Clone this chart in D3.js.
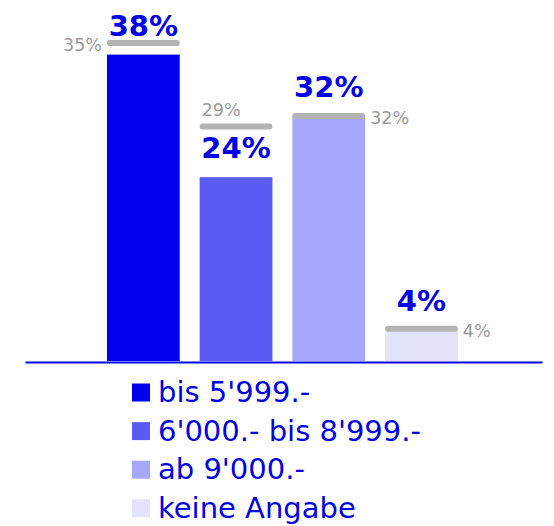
<!DOCTYPE html>
<html>
<head>
<meta charset="utf-8">
<script src="https://cdn.jsdelivr.net/npm/d3@7"></script>
<style>
  html, body { margin: 0; padding: 0; background: #fff; }
  svg { display: block; }
</style>
</head>
<body>
<div id="chart"></div>
<script>
// ---- data ----
const categories = ["bis 5'999.-", "6'000.- bis 8'999.-", "ab 9'000.-", "keine Angabe"];
// bar heights as drawn in the reference (percent scale)
const shares = [40, 24, 32, 4];
const shareLabels = ["38%", "24%", "32%", "4%"];
// grey comparison markers as drawn in the reference
const prevShares = [41.5, 30.6, 32, 4.2];
const prevLabels = ["35%", "29%", "32%", "4%"];
const yTicks = [0, 40];

// ---- styles ----
const W = 554, H = 526;
const colors = ["#0000ee", "#5a5af5", "#a6a6fb", "#e3e3fc"];
const blue = "#0000e6";
const grey = "#b3b3b3";
const greyText = "#9a9a9a";
const baseY = 361;

const svg = d3.select("#chart").append("svg")
  .attr("width", W).attr("height", H);

const x = d3.scaleBand()
  .domain(categories)
  .range([97, 467.8])
  .paddingInner(0.215)
  .paddingOuter(0.1075);

const y = d3.scaleLinear()
  .domain(d3.extent(yTicks))
  .range([baseY, baseY - 306.4]);

const data = categories.map((c, i) => ({
  c, i, v: shares[i], lab: shareLabels[i], p: prevShares[i], plab: prevLabels[i]
}));

// bars
svg.append("g").selectAll("rect").data(data).join("rect")
  .attr("x", d => x(d.c))
  .attr("y", d => y(d.v))
  .attr("width", x.bandwidth())
  .attr("height", d => y(0) - y(d.v))
  .attr("fill", (d, i) => colors[i]);

// baseline (axis line)
const axis = d3.axisBottom(d3.scaleLinear().range([25, 542])).ticks(0).tickSize(0).tickFormat("");
const ag = svg.append("g").attr("transform", `translate(0,${baseY + 1})`).call(axis);
ag.select(".domain").attr("stroke", blue).attr("stroke-width", 2);

// grey markers
svg.append("g").selectAll("rect").data(data).join("rect")
  .attr("x", d => x(d.c))
  .attr("y", d => y(d.p) - 3)
  .attr("width", x.bandwidth())
  .attr("height", 6)
  .attr("rx", 3)
  .attr("fill", grey);

// grey marker labels (placement chosen to avoid overlap)
const side = ["left", "top", "right", "right"];
svg.append("g").selectAll("text").data(data).join("text")
  .attr("font-family", "DejaVu Sans, sans-serif")
  .attr("font-size", 17.5)
  .attr("fill", greyText)
  .attr("text-anchor", d => side[d.i] === "left" ? "end" : "start")
  .attr("x", d => side[d.i] === "left" ? x(d.c) - 5
                : side[d.i] === "top" ? x(d.c) + 2
                : x(d.c) + x.bandwidth() + 5)
  .attr("y", d => side[d.i] === "top" ? y(d.p) - 11 : y(d.p) + 8)
  .text(d => d.plab);

// value labels
svg.append("g").selectAll("text").data(data).join("text")
  .attr("font-family", "DejaVu Sans, sans-serif")
  .attr("font-weight", "bold")
  .attr("font-size", 29)
  .attr("fill", blue)
  .attr("text-anchor", "middle")
  .attr("x", d => x(d.c) + x.bandwidth() / 2)
  .attr("y", d => y(d.v) - 19)
  .text(d => d.lab);

// legend
const lg = svg.append("g").selectAll("g").data(data).join("g")
  .attr("transform", (d, i) => `translate(132,${402 + i * 38.6})`);
lg.append("rect")
  .attr("x", 0).attr("y", -18.5)
  .attr("width", 18).attr("height", 18)
  .attr("fill", (d, i) => colors[i]);
lg.append("text")
  .attr("x", 26).attr("y", 0)
  .attr("font-family", "DejaVu Sans, sans-serif")
  .attr("font-size", 29)
  .attr("fill", blue)
  .text(d => d.c);
</script>
</body>
</html>
